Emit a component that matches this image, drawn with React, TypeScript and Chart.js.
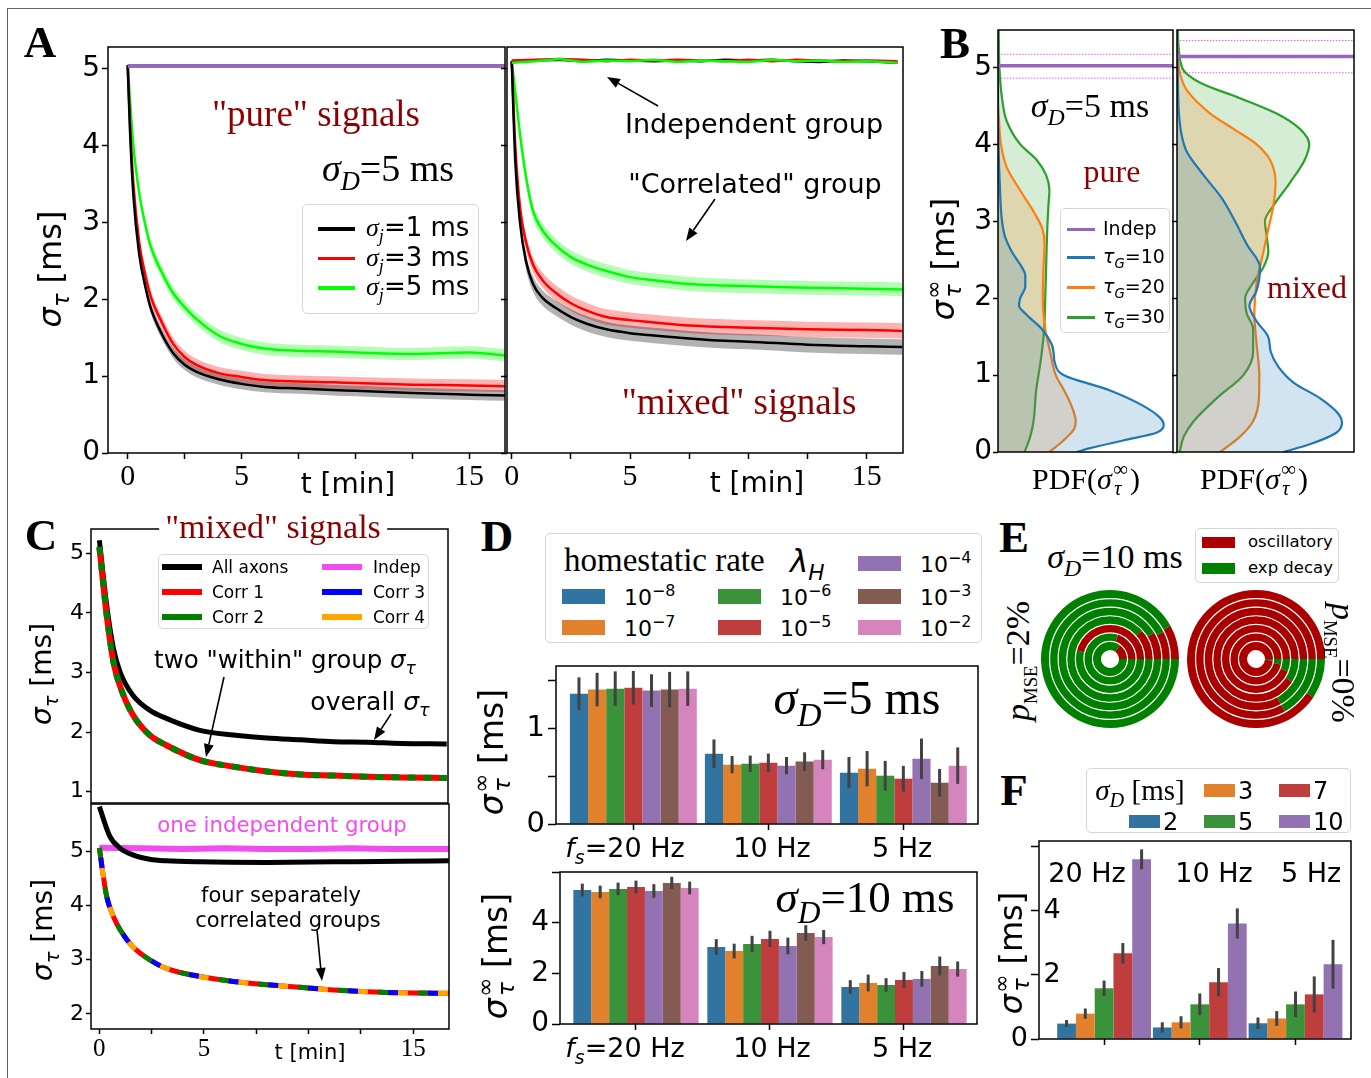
import React, { useEffect, useRef } from 'react';
import { Chart, registerables } from 'chart.js';
Chart.register(...registerables);

const SANS = "'DejaVu Sans', sans-serif";
const SERIF = "'Liberation Serif', 'Times New Roman', serif";
const DARKRED = '#8b0000';
const MAGENTA = '#f04cf0';
const PURPLE = '#9467bd';

// ---------------- Panel A ----------------
const tPure = [0, 0.1, 0.25, 0.5, 0.75, 1, 1.5, 2, 2.5, 3, 4, 5, 6, 7.5, 9, 10, 12.5, 15, 16.6];
const pureSj1 = [5.05, 4.2, 3.35, 2.6, 2.2, 1.9, 1.55, 1.3, 1.15, 1.06, 0.96, 0.9, 0.86, 0.84, 0.82, 0.81, 0.78, 0.76, 0.75];
const pureSj3 = [5.05, 4.3, 3.5, 2.75, 2.35, 2.05, 1.7, 1.42, 1.25, 1.15, 1.04, 0.99, 0.95, 0.93, 0.92, 0.91, 0.89, 0.88, 0.87];
const pureSj5 = [5.05, 4.6, 4.0, 3.4, 3.0, 2.7, 2.35, 2.08, 1.9, 1.75, 1.53, 1.42, 1.36, 1.33, 1.32, 1.31, 1.29, 1.31, 1.27];
const pureSd = [0.07, 0.08, 0.08];
const pureIndepT = [0, 16.6];
const pureIndep = [5.04, 5.04];

const tMixed = [0, 0.15, 0.35, 0.6, 0.9, 1.3, 1.8, 2.5, 3.2, 4, 5, 6, 7.5, 9, 10, 12.5, 15, 16.5];
const mixSj1 = [5.1, 3.8, 3.0, 2.5, 2.2, 2.02, 1.9, 1.77, 1.68, 1.61, 1.56, 1.53, 1.49, 1.46, 1.45, 1.41, 1.39, 1.38];
const mixSj3 = [5.1, 4.0, 3.2, 2.75, 2.45, 2.25, 2.1, 1.95, 1.85, 1.77, 1.73, 1.7, 1.66, 1.64, 1.63, 1.61, 1.6, 1.59];
const mixSj5 = [5.1, 4.7, 4.15, 3.6, 3.15, 2.9, 2.72, 2.55, 2.45, 2.37, 2.29, 2.25, 2.2, 2.18, 2.17, 2.15, 2.14, 2.13];
const mixSd = [0.1, 0.1, 0.09];
const tIndep = [0, 1, 2, 3, 4, 5, 6, 7, 8, 9, 10, 11, 12, 13, 14, 15, 16.3];
const indepSj1 = [5.1, 5.11, 5.12, 5.1, 5.12, 5.11, 5.1, 5.11, 5.1, 5.12, 5.11, 5.12, 5.1, 5.09, 5.11, 5.1, 5.08];
const indepSj3 = [5.11, 5.12, 5.13, 5.12, 5.1, 5.12, 5.11, 5.12, 5.11, 5.1, 5.12, 5.1, 5.12, 5.11, 5.1, 5.11, 5.1];
const indepSj5 = [5.08, 5.1, 5.13, 5.09, 5.11, 5.1, 5.12, 5.09, 5.11, 5.1, 5.09, 5.12, 5.1, 5.11, 5.09, 5.1, 5.08];

const timeTicks = [0, 2.5, 5, 7.5, 10, 12.5, 15];
const timeLabels = ['0', '', '5', '', '', '', '15'];
const aYTicks = [0, 1, 2, 3, 4, 5];
const aYLabels = ['0', '1', '2', '3', '4', '5'];
const legendA = ['1', '3', '5'];
const colorsA = ['#000000', '#ff0000', '#00ff00'];

// ---------------- Panel B ([value, density]) ----------------
const purePdf10 = [[0, 0.45], [0.05, 0.526], [0.15, 0.715], [0.25, 0.905], [0.35, 0.947], [0.45, 0.924], [0.6, 0.83], [0.8, 0.64], [1.0, 0.374], [1.15, 0.326], [1.3, 0.317], [1.4, 0.307], [1.6, 0.25], [1.8, 0.156], [1.9, 0.12], [2.0, 0.127], [2.15, 0.156], [2.3, 0.156], [2.4, 0.137], [2.6, 0.08], [2.8, 0.04], [3.0, 0.023], [3.5, 0.01], [3.9, 0.004], [4.5, 0], [5.5, 0]];
const purePdf20 = [[0, 0.294], [0.15, 0.374], [0.3, 0.435], [0.4, 0.444], [0.6, 0.42], [0.8, 0.378], [1.0, 0.33], [1.3, 0.298], [1.6, 0.27], [2.0, 0.256], [2.4, 0.26], [2.7, 0.266], [2.9, 0.254], [3.1, 0.21], [3.4, 0.127], [3.7, 0.05], [4.0, 0.017], [4.3, 0.006], [4.6, 0], [5.5, 0]];
const purePdf30 = [[0, 0.152], [0.2, 0.184], [0.4, 0.203], [0.8, 0.218], [1.2, 0.245], [1.6, 0.264], [2.0, 0.27], [2.4, 0.275], [2.8, 0.28], [3.2, 0.288], [3.4, 0.294], [3.6, 0.275], [3.8, 0.22], [4.0, 0.127], [4.3, 0.05], [4.6, 0.023], [5.0, 0.008], [5.5, 0.004]];
const mixPdf10 = [[0, 0.6], [0.1, 0.75], [0.25, 0.9], [0.38, 0.932], [0.5, 0.91], [0.7, 0.807], [0.9, 0.66], [1.1, 0.575], [1.3, 0.53], [1.5, 0.515], [1.7, 0.45], [1.9, 0.409], [2.1, 0.45], [2.4, 0.469], [2.7, 0.394], [3.0, 0.328], [3.3, 0.253], [3.6, 0.15], [3.9, 0.056], [4.1, 0.028], [4.4, 0.011], [5.0, 0.004], [5.5, 0]];
const mixPdf20 = [[0, 0.244], [0.2, 0.356], [0.4, 0.43], [0.7, 0.463], [1.0, 0.465], [1.4, 0.45], [1.8, 0.437], [2.2, 0.45], [2.6, 0.488], [2.9, 0.516], [3.2, 0.544], [3.5, 0.557], [3.8, 0.525], [4.0, 0.45], [4.2, 0.319], [4.4, 0.188], [4.7, 0.056], [4.9, 0.019], [5.2, 0.004], [5.5, 0]];
const mixPdf30 = [[0, 0.015], [0.2, 0.038], [0.4, 0.094], [0.7, 0.225], [1.0, 0.375], [1.3, 0.43], [1.6, 0.43], [1.8, 0.394], [2.0, 0.385], [2.2, 0.43], [2.4, 0.488], [2.6, 0.516], [2.8, 0.507], [3.0, 0.497], [3.2, 0.544], [3.5, 0.638], [3.8, 0.722], [4.0, 0.747], [4.2, 0.694], [4.4, 0.563], [4.6, 0.356], [4.8, 0.131], [5.0, 0.028], [5.5, 0.004]];
const pureIndepLevels = [5.02, 5.17, 4.86]; // mean, upper, lower
const mixIndepLevels = [5.14, 5.35, 4.93];
const legendB = ['10', '20', '30'];
const colorsB = ['#1f77b4', '#ff7f0e', '#2ca02c'];
const fillsB = ['rgba(31,119,180,0.2)', 'rgba(255,127,14,0.2)', 'rgba(44,160,44,0.2)'];

// ---------------- Panel C ----------------
const tCtop = [0, 0.35, 0.67, 1, 1.6, 2.4, 3.2, 4.8, 6.4, 8, 9.6, 11.2, 12.8, 14.4, 16.6];
const cAllTop = [5.22, 4.13, 3.41, 3.0, 2.62, 2.37, 2.23, 2.03, 1.95, 1.9, 1.87, 1.84, 1.83, 1.81, 1.8];
const cWithinTop = [5.11, 3.96, 3.18, 2.76, 2.29, 1.95, 1.78, 1.53, 1.42, 1.34, 1.29, 1.27, 1.25, 1.24, 1.23];
const tCbot = [0, 0.19, 0.35, 0.67, 1, 1.6, 2.4, 3.2, 4.8, 6.4, 8, 9.6, 11.2, 12.8, 14.4, 16.7];
const cGroupsBot = [5.07, 4.54, 4.17, 3.8, 3.55, 3.24, 3.0, 2.84, 2.69, 2.6, 2.54, 2.49, 2.44, 2.41, 2.39, 2.38];
const tCbotAll = [0, 0.5, 1, 1.6, 2.4, 3.2, 4.8, 8, 11.2, 14.4, 16.7];
const cAllBot = [5.83, 5.28, 5.06, 4.94, 4.86, 4.83, 4.81, 4.8, 4.81, 4.82, 4.83];
const tCbotIndep = [0, 2, 4, 6, 8, 10, 12, 14, 16.7];
const cIndepBot = [5.07, 5.06, 5.05, 5.06, 5.05, 5.05, 5.06, 5.05, 5.05];
const cTopYTicks = [1, 2, 3, 4, 5];
const cBotYTicks = [2, 3, 4, 5];
const legendC = [['All axons', '#000000'], ['Corr 1', '#ff0000'], ['Corr 2', '#008000'], ['Indep', MAGENTA], ['Corr 3', '#0000ff'], ['Corr 4', '#ffa500']];

// ---------------- Panel D ----------------
const lambdaExp = ['−8', '−7', '−6', '−5', '−4', '−3', '−2'];
const barColors = ['#3274a1', '#e1812c', '#3a923a', '#c03d3e', '#9372b2', '#845b53', '#d684bd'];
const rateLabels = ['20 Hz', '10 Hz', '5 Hz'];
const d5Vals = [[1.358, 0.733, 0.535], [1.40, 0.618, 0.576], [1.41, 0.628, 0.503], [1.42, 0.639, 0.472], [1.39, 0.608, 0.68], [1.40, 0.65, 0.43], [1.41, 0.67, 0.608]];
const d5Errs = [[0.17, 0.148, 0.163], [0.175, 0.09, 0.184], [0.18, 0.085, 0.155], [0.175, 0.095, 0.134], [0.17, 0.09, 0.21], [0.185, 0.097, 0.144], [0.18, 0.1, 0.19]];
const d10Vals = [[5.29, 3.04, 1.46], [5.21, 2.88, 1.62], [5.33, 3.16, 1.54], [5.41, 3.36, 1.74], [5.25, 3.08, 1.78], [5.57, 3.59, 2.29], [5.37, 3.43, 2.17]];
const d10Errs = [[0.25, 0.31, 0.27], [0.25, 0.29, 0.33], [0.25, 0.32, 0.27], [0.25, 0.32, 0.31], [0.27, 0.33, 0.31], [0.24, 0.31, 0.375], [0.25, 0.28, 0.3]];
const dTopYTicks = [0, 0.5, 1, 1.5];
const dTopYLabels = ['0', '', '1', ''];
const dBotYTicks = [0, 2, 4, 6];
const dBotYLabels = ['0', '2', '4', ''];

// ---------------- Panel E (oscillatory fraction, outer ring -> inner ring) ----------------
const eLeftOsc = [0.08, 0.075, 0.085, 0.115, 0.46, 0.2, 0.15];
const eRightOsc = [0.906, 0.83, 0.83, 0.91, 0.94, 0.965, 0.985];
const OSC = '#aa0000';
const EXP = '#008000';

// ---------------- Panel F ----------------
const sigmaDLabels = ['2', '3', '5', '7', '10'];
const fVals = [[0.48, 0.36, 0.49], [0.79, 0.52, 0.64], [1.58, 1.08, 1.08], [2.67, 1.77, 1.39], [5.6, 3.6, 2.33]];
const fErrs = [[0.11, 0.16, 0.18], [0.16, 0.19, 0.23], [0.24, 0.34, 0.4], [0.32, 0.44, 0.56], [0.31, 0.47, 0.76]];
const fYTicks = [0, 2, 4, 6];
const fYLabels = ['0', '', '', ''];
const fInnerVals = [2, 4];
const fInnerLabels = ['2', '4'];

// ---------------- helpers ----------------
const pts = (xs: number[], ys: number[]) => xs.map((x, i) => ({ x, y: ys[i] }));
const shift = (ys: number[], d: number) => ys.map((v) => v + d);

const line = (data: any[], color: string, width: number, extra: any = {}) => ({
  data, borderColor: color, borderWidth: width, pointRadius: 0, fill: false,
  cubicInterpolationMode: 'monotone', ...extra,
});
const band = (xs: number[], ys: number[], sd: number, color: string) => [
  { data: pts(xs, shift(ys, sd)), borderWidth: 0, pointRadius: 0, fill: '+1', backgroundColor: color, cubicInterpolationMode: 'monotone' },
  { data: pts(xs, shift(ys, -sd)), borderWidth: 0, pointRadius: 0, fill: false, cubicInterpolationMode: 'monotone' },
];

const sc = (o: any) => ({
  type: 'linear', min: o.min, max: o.max, bounds: 'data', offset: false,
  afterBuildTicks: (s: any) => { s.ticks = (o.ticks || []).map((v: number) => ({ value: v })); },
  afterFit: (s: any) => {
    if (s.isHorizontal()) s.height = o.size; else s.width = o.size;
    s.paddingTop = 0; s.paddingBottom = 0; s.paddingLeft = 0; s.paddingRight = 0;
  },
  grid: { display: true, drawOnChartArea: false, drawTicks: (o.ticks || []).length > 0, tickLength: o.tl ?? 6, tickWidth: 1.5, tickColor: '#000', color: '#000', offset: false },
  border: { display: false },
  ticks: {
    display: !!o.labels, font: o.font, color: '#000', padding: o.pad ?? 2, autoSkip: false, maxRotation: 0, minRotation: 0,
    callback: (_v: number, i: number) => (o.labels ? o.labels[i] : ''),
  },
});

const boxPlugin = {
  id: 'frame',
  afterDraw(chart: any) {
    const { ctx, chartArea: a } = chart;
    ctx.save(); ctx.strokeStyle = '#000'; ctx.lineWidth = 1.5;
    ctx.strokeRect(a.left, a.top, a.right - a.left, a.bottom - a.top);
    ctx.restore();
  },
};
const errPlugin = {
  id: 'errbars',
  afterDatasetsDraw(chart: any) {
    const { ctx } = chart; const y = chart.scales.y;
    ctx.save(); ctx.strokeStyle = '#424242'; ctx.lineWidth = 3;
    chart.data.datasets.forEach((ds: any, i: number) => {
      const meta = chart.getDatasetMeta(i);
      meta.data.forEach((el: any, j: number) => {
        const v = ds.data[j].y; const e = ds.errors[j];
        ctx.beginPath(); ctx.moveTo(el.x, y.getPixelForValue(v - e)); ctx.lineTo(el.x, y.getPixelForValue(v + e)); ctx.stroke();
      });
    });
    ctx.restore();
  },
};
const innerLabelPlugin = {
  id: 'innerYLabels',
  afterDraw(chart: any) {
    const { ctx, chartArea } = chart; const y = chart.scales.y;
    ctx.save(); ctx.font = `27px ${SANS}`; ctx.fillStyle = '#000'; ctx.textAlign = 'center'; ctx.textBaseline = 'middle';
    fInnerVals.forEach((v, i) => ctx.fillText(fInnerLabels[i], chartArea.left + 13, y.getPixelForValue(v)));
    ctx.restore();
  },
};
const ringPlugin = {
  id: 'rings',
  afterDatasetsDraw(chart: any) {
    const { ctx } = chart; const n = chart.data.datasets.length;
    ctx.save(); ctx.strokeStyle = '#fff'; ctx.lineWidth = 1.2;
    for (let i = 0; i < n - 1; i++) {
      const arc: any = chart.getDatasetMeta(i).data[0];
      ctx.beginPath(); ctx.arc(arc.x, arc.y, arc.innerRadius, 0, Math.PI * 2); ctx.stroke();
    }
    ctx.restore();
  },
};

function Plot({ box, m, make }: any) {
  const [l, t, r, b] = box; const [ml, mt, mr, mb] = m;
  const W = r - l + ml + mr; const H = b - t + mt + mb;
  const ref = useRef<HTMLCanvasElement>(null);
  useEffect(() => {
    const cfg: any = make(ml, mb);
    cfg.options = {
      responsive: false, maintainAspectRatio: false, animation: false, devicePixelRatio: 1, events: [],
      layout: { padding: { left: 0, top: mt, right: mr, bottom: 0 } },
      ...(cfg.options || {}),
      plugins: { legend: { display: false }, tooltip: { enabled: false } },
    };
    const ch = new Chart(ref.current as HTMLCanvasElement, cfg);
    return () => ch.destroy();
  }, []);
  return <canvas ref={ref} width={W} height={H} style={{ position: 'absolute', left: l - ml, top: t - mt, width: W, height: H }} />;
}

// ---------------- chart builders ----------------
const fA = (s: number) => ({ family: SANS, size: s });
const fS = (s: number) => ({ family: SERIF, size: s });

const makeAPure = (yw: number, xh: number) => ({
  type: 'line',
  data: { datasets: [
    line(pts(pureIndepT, pureIndep), PURPLE, 4, { cubicInterpolationMode: 'default', tension: 0 }),
    line(pts(tPure, pureSj1), colorsA[0], 2.5),
    line(pts(tPure, pureSj3), colorsA[1], 2.5),
    line(pts(tPure, pureSj5), colorsA[2], 2.5),
    ...band(tPure, pureSj1, pureSd[0], 'rgba(0,0,0,0.3)'),
    ...band(tPure, pureSj3, pureSd[1], 'rgba(255,0,0,0.3)'),
    ...band(tPure, pureSj5, pureSd[2], 'rgba(0,255,0,0.3)'),
  ] },
  options: { scales: {
    x: sc({ min: -0.866, max: 16.58, ticks: timeTicks, labels: timeLabels, size: xh, font: fS(30), pad: 0 }),
    y: sc({ min: 0, max: 5.286, ticks: aYTicks, labels: aYLabels, size: yw, font: fA(28), pad: 2 }),
  } },
  plugins: [boxPlugin],
});

const makeAMixed = (yw: number, xh: number) => ({
  type: 'line',
  data: { datasets: [
    line(pts(tIndep, indepSj5), colorsA[2], 2.5, { cubicInterpolationMode: 'default', tension: 0 }),
    line(pts(tIndep, indepSj3), colorsA[1], 2.5, { cubicInterpolationMode: 'default', tension: 0 }),
    line(pts(tIndep, indepSj1), colorsA[0], 2.5, { cubicInterpolationMode: 'default', tension: 0 }),
    line(pts(tMixed, mixSj1), colorsA[0], 2.5),
    line(pts(tMixed, mixSj3), colorsA[1], 2.5),
    line(pts(tMixed, mixSj5), colorsA[2], 2.5),
    ...band(tMixed, mixSj1, mixSd[0], 'rgba(0,0,0,0.3)'),
    ...band(tMixed, mixSj3, mixSd[1], 'rgba(255,0,0,0.3)'),
    ...band(tMixed, mixSj5, mixSd[2], 'rgba(0,255,0,0.3)'),
  ] },
  options: { scales: {
    x: sc({ min: -0.2, max: 16.53, ticks: timeTicks, labels: timeLabels, size: xh, font: fS(30), pad: 0 }),
    y: sc({ min: 0, max: 5.286, ticks: aYTicks, size: yw }),
  } },
  plugins: [boxPlugin],
});

const pdfDs = (arr: number[][], k: number) => ({
  data: arr.map(([v, d]) => ({ x: d, y: v })), borderColor: colorsB[k], borderWidth: 2.2, pointRadius: 0,
  fill: 'origin', backgroundColor: fillsB[k], cubicInterpolationMode: 'monotone',
});
const hline = (v: number, color: string, width: number, dash: number[] = []) => ({
  data: [{ x: 0, y: v }, { x: 1, y: v }], borderColor: color, borderWidth: width, borderDash: dash, pointRadius: 0, fill: false, tension: 0,
});
const makeB = (pdfs: number[][][], lv: number[], showLabels: boolean) => (yw: number, xh: number) => ({
  type: 'line',
  data: { datasets: [
    hline(lv[0], PURPLE, 3.5),
    hline(lv[1], 'rgba(225,70,225,0.85)', 1, [1.5, 1.5]),
    hline(lv[2], 'rgba(225,70,225,0.85)', 1, [1.5, 1.5]),
    pdfDs(pdfs[0], 0), pdfDs(pdfs[1], 1), pdfDs(pdfs[2], 2),
  ] },
  options: { indexAxis: 'y', scales: {
    x: sc({ min: 0, max: 1, size: xh }),
    y: sc({ min: 0, max: 5.486, ticks: aYTicks, labels: showLabels ? aYLabels : undefined, size: yw, font: fA(28), tl: 5, pad: 1 }),
  } },
  plugins: [boxPlugin],
});

const makeCTop = (yw: number, xh: number) => ({
  type: 'line',
  data: { datasets: [
    line(pts(tCtop, cWithinTop), '#008000', 6, { borderDash: [8, 8] }),
    line(pts(tCtop, cWithinTop), '#ff0000', 6),
    line(pts(tCtop, cAllTop), '#000000', 5),
  ] },
  options: { scales: {
    x: sc({ min: -0.4, max: 16.66, size: xh }),
    y: sc({ min: 0.81, max: 5.41, ticks: cTopYTicks, labels: cTopYTicks.map(String), size: yw, font: fA(22), tl: 5, pad: 2 }),
  } },
  plugins: [boxPlugin],
});

const makeCBot = (yw: number, xh: number) => ({
  type: 'line',
  data: { datasets: [
    line(pts(tCbot, cGroupsBot), '#008000', 5, { borderDash: [10, 30], borderDashOffset: 0 }),
    line(pts(tCbot, cGroupsBot), '#0000ff', 5, { borderDash: [10, 30], borderDashOffset: -10 }),
    line(pts(tCbot, cGroupsBot), '#ffa500', 5, { borderDash: [10, 30], borderDashOffset: -20 }),
    line(pts(tCbot, cGroupsBot), '#ff0000', 5),
    line(pts(tCbotAll, cAllBot), '#000000', 5),
    line(pts(tCbotIndep, cIndepBot), MAGENTA, 6, { cubicInterpolationMode: 'default', tension: 0 }),
  ] },
  options: { scales: {
    x: sc({ min: -0.4, max: 16.71, ticks: timeTicks, labels: timeLabels, size: xh, font: fS(25), tl: 5, pad: 0 }),
    y: sc({ min: 1.72, max: 5.88, ticks: cBotYTicks, labels: cBotYTicks.map(String), size: yw, font: fA(22), tl: 5, pad: 2 }),
  } },
  plugins: [boxPlugin],
});

const barDs = (vals: number[], errs: number[], color: string, cat: number) => ({
  data: vals.map((v, j) => ({ x: j, y: v })), errors: errs, backgroundColor: color, borderWidth: 0,
  categoryPercentage: cat, barPercentage: 1, grouped: true,
});
const makeBars = (vals: number[][], errs: number[][], cat: number, xr: number[], yr: number[], yt: number[], yl: string[], font: number, extra: any[] = []) => (yw: number, xh: number) => ({
  type: 'bar',
  data: { datasets: vals.map((v, i) => barDs(v, errs[i], barColors[i], cat)) },
  options: { scales: {
    x: sc({ min: xr[0], max: xr[1], ticks: [0, 1, 2], size: xh, tl: 6 }),
    y: sc({ min: yr[0], max: yr[1], ticks: yt, labels: yl, size: yw, font: fA(font), tl: 8, pad: 3 }),
  } },
  plugins: [errPlugin, boxPlugin, ...extra],
});

const makeDonut = (osc: number[]) => () => ({
  type: 'doughnut',
  data: { datasets: osc.map((f) => ({ data: [1 - f, f], backgroundColor: [EXP, OSC], borderWidth: 0 })) },
  options: { rotation: 90, cutout: '13%' },
  plugins: [ringPlugin],
});

// ---------------- overlay helpers ----------------
const Txt = ({ x, y, s, f = SANS, c = '#000', rot = 0, left = false, bold = false, bg, children }: any) => (
  <div style={{
    position: 'absolute', left: x, top: y, transform: `translate(${left ? '0' : '-50%'}, -50%) rotate(${rot}deg)`,
    fontSize: s, fontFamily: f, color: c, whiteSpace: 'nowrap', lineHeight: 1, fontWeight: bold ? 'bold' : 'normal',
    background: bg, padding: bg ? '0 6px' : 0,
  }}>{children}</div>
);
const I = ({ children, f }: any) => <span style={{ fontStyle: 'italic', fontFamily: f }}>{children}</span>;
const Sub = ({ children, f, it = true, k = 0.7, dy = 0.35 }: any) => (
  <span style={{ fontSize: `${k}em`, position: 'relative', top: `${dy}em`, fontStyle: it ? 'italic' : 'normal', fontFamily: f }}>{children}</span>
);
const Sup = ({ children }: any) => <span style={{ fontSize: '0.72em', position: 'relative', top: '-0.55em' }}>{children}</span>;
const SubSup = ({ sub, sup }: any) => (
  <span style={{ display: 'inline-block', position: 'relative', width: '0.6em', height: '0.8em' }}>
    <span style={{ position: 'absolute', left: '0.05em', top: '-0.29em', fontSize: '0.7em', lineHeight: 1 }}>{sup}</span>
    <span style={{ position: 'absolute', left: '0.1em', top: '0.61em', fontSize: '0.7em', lineHeight: 1, fontStyle: 'italic' }}>{sub}</span>
  </span>
);
const SigTau = () => <><I>σ</I><Sub>τ</Sub></>;
const SigTauInf = () => <><I>σ</I><SubSup sub="τ" sup="∞" /></>;
const SigD = () => <><I>σ</I><Sub>D</Sub></>;

const Seg = ({ x1, x2, y, c, w }: any) => <div style={{ position: 'absolute', left: x1, top: y - w / 2, width: x2 - x1, height: w, background: c }} />;
const LBox = ({ l, t, w, h }: any) => (
  <div style={{ position: 'absolute', left: l, top: t, width: w, height: h, border: '1.5px solid #d6d6d6', borderRadius: 5, background: 'rgba(255,255,255,0.85)', boxSizing: 'border-box' }} />
);
const Arrow = ({ x1, y1, x2, y2 }: any) => {
  const a = Math.atan2(y2 - y1, x2 - x1); const L = 13; const W = 5;
  const bx = x2 - L * Math.cos(a); const by = y2 - L * Math.sin(a);
  const p = `${x2},${y2} ${bx - W * Math.sin(a)},${by + W * Math.cos(a)} ${bx + W * Math.sin(a)},${by - W * Math.cos(a)}`;
  return <g><line x1={x1} y1={y1} x2={bx} y2={by} stroke="#000" strokeWidth={1.6} /><polygon points={p} fill="#000" /></g>;
};

export default function App() {
  const dLegendPos = [[562, 596.5], [562, 627.5], [718, 596.5], [718, 627.5], [858, 563.5], [858, 596.5], [858, 627.5]];
  const fLegendPos = [[1129, 821], [1204, 790], [1204, 821], [1279, 790], [1279, 821]];
  const rowsB = [257, 287, 317];
  return (
    <div style={{ position: 'absolute', left: 0, top: 0, width: 1371, height: 1078, background: '#fff', overflow: 'hidden' }}>
      <div style={{ position: 'absolute', left: 7, top: 8, right: 0, bottom: 0, borderTop: '1.5px solid #666', borderLeft: '1.5px solid #666' }} />

      <Plot box={[108, 47, 505, 453]} m={[60, 20, 2, 50]} make={makeAPure} />
      <Plot box={[507, 47, 903, 453]} m={[10, 20, 5, 50]} make={makeAMixed} />
      <Plot box={[998, 30, 1173, 452]} m={[60, 20, 2, 10]} make={makeB([purePdf10, purePdf20, purePdf30], pureIndepLevels, true)} />
      <Plot box={[1177, 30, 1354, 452]} m={[10, 20, 5, 10]} make={makeB([mixPdf10, mixPdf20, mixPdf30], mixIndepLevels, false)} />
      <Plot box={[91, 529, 448, 803]} m={[60, 20, 5, 10]} make={makeCTop} />
      <Plot box={[91, 804, 449, 1029]} m={[60, 20, 5, 40]} make={makeCBot} />
      <Plot box={[556, 666, 978, 824]} m={[60, 20, 5, 12]} make={makeBars(d5Vals, d5Errs, 0.94, [-0.573, 2.553], [0, 1.646], dTopYTicks, dTopYLabels, 29)} />
      <Plot box={[560, 872, 977, 1024]} m={[60, 20, 5, 12]} make={makeBars(d10Vals, d10Errs, 0.935, [-0.567, 2.545], [0, 6.0], dBotYTicks, dBotYLabels, 28)} />
      <Plot box={[1039, 841, 1351, 1039]} m={[60, 20, 5, 12]} make={makeBars(fVals, fErrs, 0.98, [-0.68, 2.58], [0, 6.17], fYTicks, fYLabels, 27, [innerLabelPlugin])} />
      <Plot box={[1041, 590, 1179, 728]} m={[0, 0, 0, 0]} make={makeDonut(eLeftOsc)} />
      <Plot box={[1187, 590, 1325, 728]} m={[0, 0, 0, 0]} make={makeDonut(eRightOsc)} />

      {/* panel letters */}
      {[['A', 40, 42], ['B', 955, 43], ['C', 41, 535], ['D', 497, 536], ['E', 1014, 537], ['F', 1014, 790]].map(([L, x, y]: any) => (
        <Txt key={L} x={x} y={y} s={45} f={SERIF} bold>{L}</Txt>
      ))}

      {/* ---- A ---- */}
      <Txt x={50} y={269} s={32} rot={-90}><SigTau /> [ms]</Txt>
      <Txt x={348} y={484} s={28}>t [min]</Txt>
      <Txt x={757} y={483} s={28}>t [min]</Txt>
      <Txt x={316} y={113} s={37} f={SERIF} c={DARKRED}>"pure" signals</Txt>
      <Txt x={388} y={168} s={38} f={SERIF}><SigD />=5 ms</Txt>
      <LBox l={302} t={204} w={177} h={110} />
      {legendA.map((v, i) => (
        <React.Fragment key={v}>
          <Seg x1={318} x2={355} y={229 + i * 29.5} c={colorsA[i]} w={3.5} />
          <Txt x={366} y={227 + i * 29.5} s={26} left><I f={SERIF}>σ</I><Sub f={SERIF}>j</Sub>={v} ms</Txt>
        </React.Fragment>
      ))}
      <Txt x={754} y={123} s={27}>Independent group</Txt>
      <Txt x={755} y={183} s={27}>"Correlated" group</Txt>
      <Txt x={739} y={401} s={37} f={SERIF} c={DARKRED}>"mixed" signals</Txt>

      {/* ---- B ---- */}
      <Txt x={943} y={259} s={32} rot={-90}><SigTauInf /> [ms]</Txt>
      <Txt x={1090} y={106} s={34} f={SERIF}><SigD />=5 ms</Txt>
      <Txt x={1112} y={171} s={32} f={SERIF} c={DARKRED}>pure</Txt>
      <Txt x={1307} y={287} s={32} f={SERIF} c={DARKRED}>mixed</Txt>
      <LBox l={1060} t={208} w={110} h={125} />
      <Seg x1={1067} x2={1095} y={229} c={PURPLE} w={3} />
      <Txt x={1103} y={228} s={19} left>Indep</Txt>
      {legendB.map((v, i) => (
        <React.Fragment key={v}>
          <Seg x1={1067} x2={1095} y={rowsB[i]} c={colorsB[i]} w={3} />
          <Txt x={1103} y={rowsB[i] - 1} s={19} left><I>τ</I><Sub>G</Sub>={v}</Txt>
        </React.Fragment>
      ))}
      <Txt x={1086} y={479} s={30} f={SERIF}>PDF(<SigTauInf />)</Txt>
      <Txt x={1254} y={479} s={30} f={SERIF}>PDF(<SigTauInf />)</Txt>

      {/* ---- C ---- */}
      <Txt x={273} y={527} s={34} f={SERIF} c={DARKRED} bg="#fff">"mixed" signals</Txt>
      <LBox l={158} t={554} w={271} h={75} />
      {legendC.map(([lab, col], i) => {
        const cx = i < 3 ? 162 : 322; const row = i % 3;
        return (
          <React.Fragment key={lab}>
            <Seg x1={cx} x2={cx + 40} y={567 + row * 25} c={col} w={6} />
            <Txt x={cx + (i < 3 ? 50 : 51)} y={567 + row * 25} s={17} left>{lab}</Txt>
          </React.Fragment>
        );
      })}
      <Txt x={285} y={660} s={24.5}>two "within" group  <SigTau /></Txt>
      <Txt x={370} y={701} s={25}>overall  <SigTau /></Txt>
      <Txt x={42} y={674} s={28} rot={-90}><SigTau /> [ms]</Txt>
      <Txt x={43} y={930} s={28} rot={-90}><SigTau /> [ms]</Txt>
      <Txt x={282} y={825} s={21.3} c={MAGENTA}>one independent group</Txt>
      <Txt x={281} y={895} s={21}>four separately</Txt>
      <Txt x={288} y={920} s={21}>correlated groups</Txt>
      <Txt x={310} y={1052} s={21}>t [min]</Txt>

      {/* ---- D ---- */}
      <LBox l={545} t={533} w={437} h={110} />
      <Txt x={564} y={560} s={33} f={SERIF} left>homestatic rate</Txt>
      <Txt x={790} y={561} s={31} left><I>λ</I><Sub>H</Sub></Txt>
      {lambdaExp.map((e, i) => (
        <React.Fragment key={e}>
          <div style={{ position: 'absolute', left: dLegendPos[i][0], top: dLegendPos[i][1] - 7.5, width: 43, height: 15, background: barColors[i] }} />
          <Txt x={dLegendPos[i][0] + 62} y={dLegendPos[i][1] + 1} s={22} left>10<Sup>{e}</Sup></Txt>
        </React.Fragment>
      ))}
      <Txt x={857} y={698} s={48} f={SERIF}><SigD />=5 ms</Txt>
      <Txt x={865} y={897} s={45} f={SERIF}><SigD />=10 ms</Txt>
      {[847, 1047].map((yy) => (
        <React.Fragment key={yy}>
          <Txt x={625} y={yy} s={27}><I>f</I><Sub>s</Sub>={rateLabels[0]}</Txt>
          <Txt x={772} y={yy} s={27}>{rateLabels[1]}</Txt>
          <Txt x={902} y={yy} s={27}>{rateLabels[2]}</Txt>
        </React.Fragment>
      ))}
      <Txt x={491} y={752} s={33} rot={-90}><SigTauInf /> [ms]</Txt>
      <Txt x={495} y={956} s={33} rot={-90}><SigTauInf /> [ms]</Txt>

      {/* ---- E ---- */}
      <Txt x={1115} y={557} s={34} f={SERIF}><SigD />=10 ms</Txt>
      <LBox l={1195} t={528} w={144} h={55} />
      <div style={{ position: 'absolute', left: 1202, top: 537, width: 33, height: 11, background: OSC }} />
      <div style={{ position: 'absolute', left: 1202, top: 563, width: 33, height: 11, background: EXP }} />
      <Txt x={1248} y={542} s={16.5} left>oscillatory</Txt>
      <Txt x={1248} y={568} s={16.5} left>exp decay</Txt>
      <Txt x={1018} y={661} s={34} f={SERIF} rot={-90}><I>p</I><Sub it={false} k={0.55} dy={0.45}>MSE</Sub>=2%</Txt>
      <Txt x={1343} y={663} s={34} f={SERIF} rot={90}><I>p</I><Sub it={false} k={0.55} dy={0.45}>MSE</Sub>=0%</Txt>

      {/* ---- F ---- */}
      <LBox l={1086} t={768} w={265} h={65} />
      <Txt x={1140} y={790} s={29} f={SERIF}><SigD /> [ms]</Txt>
      {sigmaDLabels.map((lab, i) => (
        <React.Fragment key={lab}>
          <div style={{ position: 'absolute', left: fLegendPos[i][0], top: fLegendPos[i][1] - 6.5, width: 31, height: 13, background: barColors[i] }} />
          <Txt x={fLegendPos[i][0] + 34} y={fLegendPos[i][1] + 1} s={24} left>{lab}</Txt>
        </React.Fragment>
      ))}
      <Txt x={1087} y={872} s={27}>{rateLabels[0]}</Txt>
      <Txt x={1214} y={872} s={27}>{rateLabels[1]}</Txt>
      <Txt x={1311} y={872} s={27}>{rateLabels[2]}</Txt>
      <Txt x={1011} y={953} s={32} rot={-90}><SigTauInf /> [ms]</Txt>

      <svg width={1371} height={1078} style={{ position: 'absolute', left: 0, top: 0, pointerEvents: 'none' }}>
        <Arrow x1={658} y1={106} x2={607} y2={77} />
        <Arrow x1={715} y1={199} x2={686} y2={241} />
        <Arrow x1={224} y1={677} x2={206} y2={757} />
        <Arrow x1={391} y1={714} x2={374} y2={740} />
        <Arrow x1={317} y1={930} x2={322} y2={981} />
      </svg>
    </div>
  );
}
